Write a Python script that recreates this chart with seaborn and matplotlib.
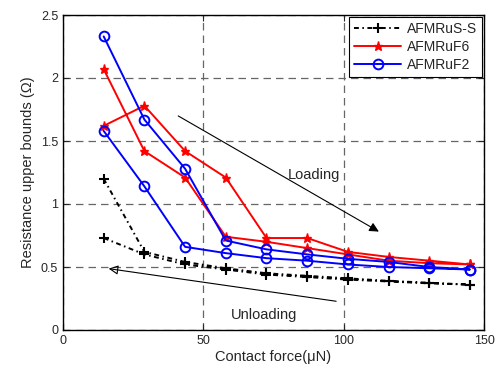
import pandas as pd
import seaborn as sns
import matplotlib.pyplot as plt

force = [14.5, 29, 43.5, 58, 72.5, 87, 101.5, 116, 130.5, 145]

# each sample: loading path then unloading path
ss_load = [1.20, 0.62, 0.54, 0.49, 0.45, 0.43, 0.41, 0.39, 0.375, 0.36]
ss_unload = [0.73, 0.60, 0.52, 0.48, 0.44, 0.42, 0.40, 0.385, 0.37, 0.36]
f6_load = [1.62, 1.78, 1.42, 1.21, 0.73, 0.73, 0.62, 0.58, 0.55, 0.52]
f6_unload = [2.07, 1.42, 1.21, 0.74, 0.70, 0.65, 0.60, 0.55, 0.53, 0.52]
f2_load = [2.33, 1.67, 1.28, 0.71, 0.64, 0.60, 0.565, 0.54, 0.50, 0.48]
f2_unload = [1.58, 1.14, 0.66, 0.61, 0.57, 0.55, 0.52, 0.50, 0.49, 0.48]

names = ["AFMRuS-S", "AFMRuF6", "AFMRuF2"]


def cycle(load, unload):
    return pd.DataFrame({
        "force": force + force[::-1],
        "R": load + unload[::-1],
    })


sns.set_style("ticks")
plt.rcParams["font.family"] = ["Liberation Sans", "DejaVu Sans"]

fig = plt.figure(figsize=(5.03, 3.72), dpi=100)
ax = fig.add_axes([63 / 503, 1 - 330 / 372, 421 / 503, 315 / 372])

styles = [
    dict(color="black", linestyle=(0, (2.5, 1.8, 0.8, 1.8)), marker="+",
         markersize=7, markeredgewidth=1.5, markeredgecolor="black"),
    dict(color="red", linestyle="-", marker="*", markersize=6.5,
         markeredgewidth=1.0, markeredgecolor="red", markerfacecolor="red"),
    dict(color="blue", linestyle="-", marker="o", markersize=7,
         markerfacecolor="none", markeredgewidth=1.4, markeredgecolor="blue"),
]
data = [(ss_load, ss_unload), (f6_load, f6_unload), (f2_load, f2_unload)]

for name, (ld, ul), st in zip(names, data, styles):
    sns.lineplot(data=cycle(ld, ul), x="force", y="R", sort=False,
                 estimator=None, ax=ax, legend=False, linewidth=1.4, **st)

ax.set_xlim(0, 150)
ax.set_ylim(0, 2.5)
ax.set_xticks([0, 50, 100, 150])
ax.set_yticks([0, 0.5, 1, 1.5, 2, 2.5])
ax.set_yticklabels(["0", "0.5", "1", "1.5", "2", "2.5"])
ax.tick_params(labelsize=9, length=4, width=0.8, top=True, right=True,
               direction="in")
ax.grid(True, color="0.4", linestyle=(0, (6, 4)), linewidth=0.9)
for s in ax.spines.values():
    s.set_linewidth(1.0)
    s.set_color("black")

ax.set_xlabel("Contact force(\u03bcN)", fontsize=10.5, labelpad=2)
ax.set_ylabel("Resistance upper bounds (\u03a9)", fontsize=10.5, labelpad=4)

ax.annotate("", xy=(113.4, 0.77), xytext=(40.2, 1.71),
            arrowprops=dict(arrowstyle="-|>", color="black", lw=0.8,
                            mutation_scale=14))
ax.annotate("", xy=(15.3, 0.49), xytext=(98.3, 0.225),
            arrowprops=dict(arrowstyle="-|>", color="black", lw=0.8,
                            mutation_scale=14, fill=False))
ax.text(89.3, 1.23, "Loading", fontsize=10.5, ha="center", va="center")
ax.text(71.5, 0.12, "Unloading", fontsize=10.5, ha="center", va="center")

leg = ax.legend(ax.get_lines()[:3], names, loc="upper right", fontsize=10,
                handlelength=3.4, borderaxespad=0.15, fancybox=False,
                framealpha=1, edgecolor="black", borderpad=0.35,
                labelspacing=0.3, handletextpad=0.4)
leg.get_frame().set_linewidth(0.8)

plt.savefig("out.png", dpi=100)
